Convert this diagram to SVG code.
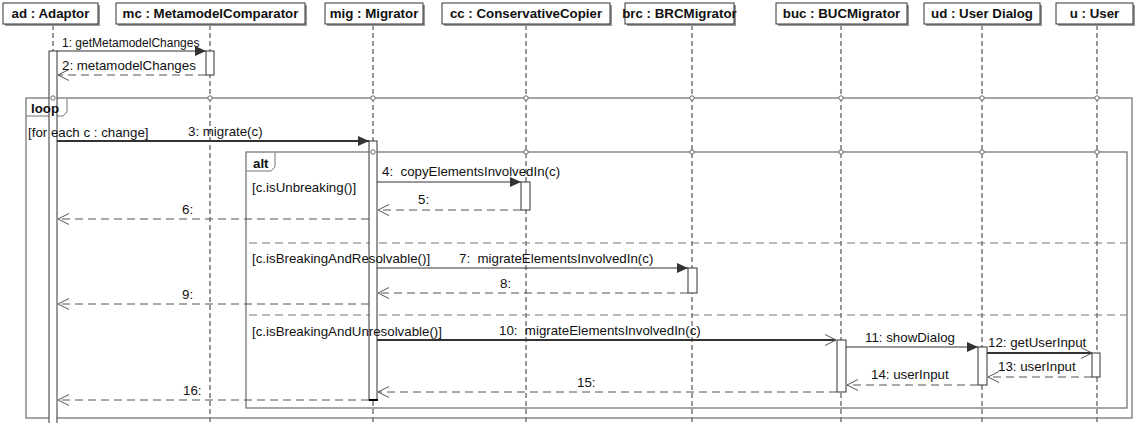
<svg xmlns="http://www.w3.org/2000/svg" width="1135" height="423" viewBox="0 0 1135 423">
<defs>
<style>
text{font-family:"Liberation Sans",Arial,sans-serif;font-size:13.3px;fill:#111}
.hd{font-weight:bold;text-anchor:middle}
.b{font-weight:bold}
.box{fill:#fff;stroke:#333;stroke-width:1}
.sh{fill:#999}
.life{stroke:#333;stroke-width:1;stroke-dasharray:5,3;fill:none}
.act{fill:#fff;stroke:#333;stroke-width:1}
.msg{stroke:#333;stroke-width:1;fill:none}
.thick{stroke:#333;stroke-width:2;fill:none}
.ret{stroke:#555;stroke-width:1;stroke-dasharray:8,5;fill:none}
.frm{fill:none;stroke:#777;stroke-width:1.3}
.sep{stroke:#777;stroke-width:1;stroke-dasharray:8,5;fill:none}
.dot{fill:#fff;stroke:#666;stroke-width:1}
</style>
<marker id="fill" markerWidth="12" markerHeight="10" refX="11" refY="5" orient="auto" markerUnits="userSpaceOnUse"><path d="M0,0 L11,5 L0,10 Z" fill="#333"/></marker>
<marker id="open" markerWidth="12" markerHeight="12" refX="11" refY="6" orient="auto" markerUnits="userSpaceOnUse"><path d="M0,0.5 L11,6 L0,11.5" fill="none" stroke="#555" stroke-width="1"/></marker>
</defs>

<g id="lifelines">
<line class="life" x1="53" y1="25" x2="53" y2="423"/>
<line class="life" x1="210" y1="25" x2="210" y2="423"/>
<line class="life" x1="373" y1="25" x2="373" y2="423"/>
<line class="life" x1="526" y1="25" x2="526" y2="423"/>
<line class="life" x1="692" y1="25" x2="692" y2="423"/>
<line class="life" x1="841" y1="25" x2="841" y2="423"/>
<line class="life" x1="982" y1="25" x2="982" y2="423"/>
<line class="life" x1="1097" y1="25" x2="1097" y2="423"/>
</g>

<g id="ad"><rect class="sh" x="5" y="5" width="95" height="21"/><rect class="box" x="3" y="3" width="95" height="21"/><text class="hd" x="50.5" y="18">ad : Adaptor</text></g>
<g id="mc"><rect class="sh" x="118" y="5" width="189" height="21"/><rect class="box" x="116" y="3" width="189" height="21"/><text class="hd" x="210.5" y="18">mc : MetamodelComparator</text></g>
<g id="mig"><rect class="sh" x="327" y="5" width="98" height="21"/><rect class="box" x="325" y="3" width="98" height="21"/><text class="hd" x="374" y="18">mig : Migrator</text></g>
<g id="cc"><rect class="sh" x="444" y="5" width="168" height="21"/><rect class="box" x="442" y="3" width="168" height="21"/><text class="hd" x="526" y="18">cc : ConservativeCopier</text></g>
<g id="brc"><rect class="sh" x="627" y="5" width="109" height="21"/><rect class="box" x="625" y="3" width="109" height="21"/><text class="hd" x="679.5" y="18">brc : BRCMigrator</text></g>
<g id="buc"><rect class="sh" x="778" y="5" width="131" height="21"/><rect class="box" x="776" y="3" width="131" height="21"/><text class="hd" x="841.5" y="18">buc : BUCMigrator</text></g>
<g id="ud"><rect class="sh" x="926" y="5" width="116" height="21"/><rect class="box" x="924" y="3" width="116" height="21"/><text class="hd" x="982" y="18">ud : User Dialog</text></g>
<g id="u"><rect class="sh" x="1058" y="5" width="77" height="21"/><rect class="box" x="1056" y="3" width="77" height="21"/><text class="hd" x="1094.5" y="18">u : User</text></g>

<g id="loop">
<rect class="frm" x="26" y="98" width="1106" height="320"/>
<path d="M26,116 H63 L67,112 V98" fill="#fff" stroke="#777" stroke-width="1"/>
</g>

<g id="alt">
<rect class="frm" x="246" y="152" width="881" height="256"/>
<path d="M246,171 H271 L275,167 V152" fill="#fff" stroke="#777" stroke-width="1"/>
<line class="sep" x1="249" y1="243" x2="1127" y2="243"/>
<line class="sep" x1="249" y1="315" x2="1127" y2="315"/>
</g>

<g id="activations">
<rect class="act" x="49" y="51" width="8" height="380"/>
<rect class="act" x="206" y="51" width="8" height="24"/>
<rect class="act" x="369" y="141" width="8" height="259"/>
<line x1="369" y1="400" x2="378" y2="400" stroke="#000" stroke-width="2"/>
<rect class="act" x="521" y="182" width="9" height="28"/>
<rect class="act" x="688" y="268" width="9" height="25"/>
<rect class="act" x="837" y="340" width="9" height="52"/>
<rect class="act" x="978" y="347" width="9" height="38"/>
<rect class="act" x="1092" y="353" width="8" height="24"/>
</g>

<g id="frame-dots">
<circle class="dot" cx="53" cy="98" r="2.2"/>
<circle class="dot" cx="210" cy="98" r="2.2"/>
<circle class="dot" cx="373" cy="98" r="2.2"/>
<circle class="dot" cx="526" cy="98" r="2.2"/>
<circle class="dot" cx="692" cy="98" r="2.2"/>
<circle class="dot" cx="841" cy="98" r="2.2"/>
<circle class="dot" cx="982" cy="98" r="2.2"/>
<circle class="dot" cx="1097" cy="98" r="2.2"/>
<circle class="dot" cx="373" cy="152" r="2.2"/>
<circle class="dot" cx="526" cy="152" r="2.2"/>
<circle class="dot" cx="692" cy="152" r="2.2"/>
<circle class="dot" cx="841" cy="152" r="2.2"/>
<circle class="dot" cx="982" cy="152" r="2.2"/>
<circle class="dot" cx="1097" cy="152" r="2.2"/>
</g>

<g id="frame-texts">
<text class="b" x="31" y="113">loop</text>
<text x="28" y="137">[for each c : change]</text>
<text class="b" x="253" y="168">alt</text>
<text x="252" y="192">[c.isUnbreaking()]</text>
<text x="252" y="263">[c.isBreakingAndResolvable()]</text>
<text x="252" y="336">[c.isBreakingAndUnresolvable()]</text>
</g>

<g id="connectors">
<line class="msg" x1="57" y1="51" x2="206" y2="51" marker-end="url(#fill)"/>
<line class="ret" x1="206" y1="75" x2="58" y2="75" marker-end="url(#open)"/>
<line class="thick" x1="57" y1="141" x2="369" y2="141" marker-end="url(#fill)"/>
<line class="msg" x1="377" y1="182" x2="521" y2="182" marker-end="url(#fill)"/>
<line class="ret" x1="521" y1="210" x2="378" y2="210" marker-end="url(#open)"/>
<line class="ret" x1="369" y1="219" x2="58" y2="219" marker-end="url(#open)"/>
<line class="msg" x1="377" y1="268" x2="688" y2="268" marker-end="url(#fill)"/>
<line class="ret" x1="688" y1="293" x2="378" y2="293" marker-end="url(#open)"/>
<line class="ret" x1="369" y1="304" x2="58" y2="304" marker-end="url(#open)"/>
<line class="thick" x1="377" y1="340" x2="836" y2="340" marker-end="url(#open)"/>
<line class="msg" x1="846" y1="347" x2="978" y2="347" marker-end="url(#fill)"/>
<line class="thick" x1="987" y1="353" x2="1092" y2="353" marker-end="url(#open)"/>
<line class="ret" x1="1092" y1="377" x2="988" y2="377" marker-end="url(#open)"/>
<line class="ret" x1="978" y1="385" x2="847" y2="385" marker-end="url(#open)"/>
<line class="ret" x1="837" y1="392" x2="378" y2="392" marker-end="url(#open)"/>
<line class="ret" x1="369" y1="400" x2="58" y2="400" marker-end="url(#open)"/>
</g>

<g id="labels">
<text x="62" y="47" style="font-size:12px">1: getMetamodelChanges</text>
<text x="62" y="70">2: metamodelChanges</text>
<text x="188" y="136">3: migrate(c)</text>
<text x="382" y="176" xml:space="preserve">4:  copyElementsInvolvedIn(c)</text>
<text x="418" y="204">5:</text>
<text x="182" y="214">6:</text>
<text x="459" y="263" xml:space="preserve">7:  migrateElementsInvolvedIn(c)</text>
<text x="500" y="288">8:</text>
<text x="182" y="299">9:</text>
<text x="499" y="335" xml:space="preserve">10:  migrateElementsInvolvedIn(c)</text>
<text x="865" y="342">11: showDialog</text>
<text x="988" y="347">12: getUserInput</text>
<text x="998" y="371">13: userInput</text>
<text x="871" y="379">14: userInput</text>
<text x="577" y="387">15:</text>
<text x="183" y="395">16:</text>
</g>
</svg>
